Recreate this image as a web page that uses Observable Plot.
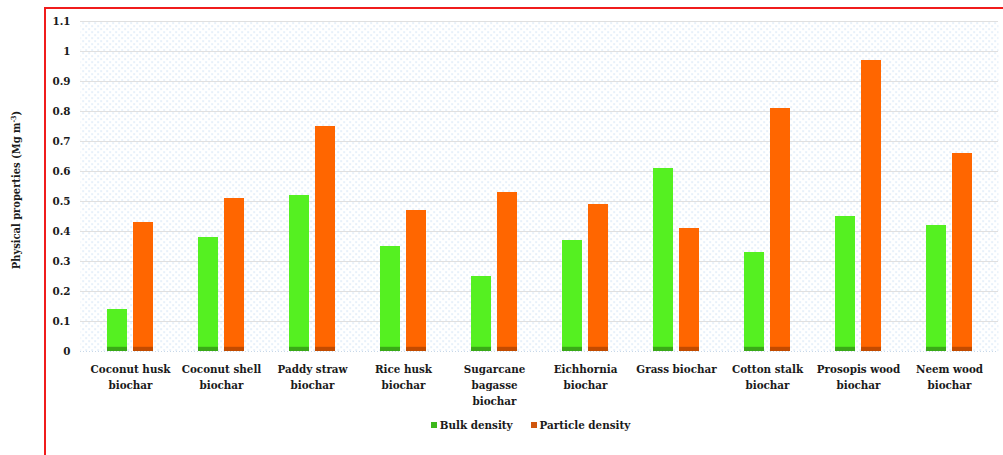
<!DOCTYPE html>
<html>
<head>
<meta charset="utf-8">
<script src="https://cdn.jsdelivr.net/npm/d3@7"></script>
<script src="https://cdn.jsdelivr.net/npm/@observablehq/plot@0.6"></script>
<style>
  html, body { margin: 0; padding: 0; background: #fff; overflow: hidden; }
  #wrap { position: relative; width: 1003px; height: 455px; overflow: hidden; }
  #border { position: absolute; left: 44px; top: 7px; width: 1100px; height: 600px; border: 2px solid #f01c1c; box-sizing: border-box; }
  #chart { position: absolute; left: 0; top: 0; }
  .serif { font-family: "DejaVu Serif Condensed", "DejaVu Serif", serif; font-stretch: condensed; font-weight: bold; }
  #ytitle { position: absolute; left: 16px; top: 190px; transform: translate(-50%, -50%) rotate(-90deg); white-space: nowrap;
    font-size: 11px; color: #1a1a1a; }
  #legend { position: absolute; top: 418px; left: 0; width: 1003px; display: flex; justify-content: center; gap: 18px;
    font-size: 11.5px; color: #1a1a1a; padding-left: 58px; box-sizing: border-box; }
  #legend span { display: inline-flex; align-items: center; gap: 3px; }
  #legend i { display: inline-block; width: 6px; height: 6px; }
  #chart svg text { font-family: "DejaVu Serif Condensed", "DejaVu Serif", serif !important; font-stretch: condensed; font-weight: bold; }
</style>
</head>
<body>
<div id="wrap">
  <div id="border"></div>
  <div id="chart"></div>
  <div id="ytitle" class="serif">Physical properties (Mg m<sup style="font-size:7px">-3</sup>)</div>
  <div id="legend" class="serif"></div>
</div>
<script>
const categories = [
  "Coconut husk\nbiochar", "Coconut shell\nbiochar", "Paddy straw\nbiochar", "Rice husk\nbiochar",
  "Sugarcane\nbagasse\nbiochar", "Eichhornia\nbiochar", "Grass biochar", "Cotton stalk\nbiochar",
  "Prosopis wood\nbiochar", "Neem wood\nbiochar"
];
const bulkDensity =     [0.14, 0.38, 0.52, 0.35, 0.25, 0.37, 0.61, 0.33, 0.45, 0.42];
const particleDensity = [0.43, 0.51, 0.75, 0.47, 0.53, 0.49, 0.41, 0.81, 0.97, 0.66];
const seriesNames = ["Bulk density", "Particle density"];
const seriesColors = ["#55f021", "#ff6600"];
const seriesDark = ["#2f8a14", "#a84000"];
const yTicks = [0, 0.1, 0.2, 0.3, 0.4, 0.5, 0.6, 0.7, 0.8, 0.9, 1, 1.1];

const bulk = categories.map((c, i) => ({cat: c, v: bulkDensity[i]}));
const part = categories.map((c, i) => ({cat: c, v: particleDensity[i]}));

const font = '"DejaVu Serif Condensed", "DejaVu Serif", serif';
const plot = Plot.plot({
  width: 1003,
  height: 410,
  marginLeft: 80,
  marginRight: 5,
  marginTop: 21,
  marginBottom: 59,
  style: {fontFamily: font, fontSize: "11.5px", fontWeight: "bold", color: "#1a1a1a", background: "transparent"},
  x: {domain: categories, paddingInner: 0.782, paddingOuter: 0.391, label: null},
  y: {domain: [0, 1.1], label: null},
  marks: [
    Plot.frame({fill: "url(#dots)", stroke: null}),
    Plot.gridY(yTicks.slice(1), {stroke: "#e0e0e0", strokeOpacity: 1, strokeWidth: 1.2}),
    Plot.ruleY([0], {stroke: "#c8d8e8", strokeDasharray: "1,2"}),
    Plot.barY(bulk, {x: "cat", y: "v", dx: -13, fill: seriesColors[0]}),
    Plot.barY(bulk, {x: "cat", y1: 0, y2: 0.014, dx: -13, fill: seriesDark[0], fillOpacity: 0.7}),
    Plot.barY(part, {x: "cat", y: "v", dx: 13, fill: seriesColors[1]}),
    Plot.barY(part, {x: "cat", y1: 0, y2: 0.014, dx: 13, fill: seriesDark[1], fillOpacity: 0.7}),
    Plot.axisY({ticks: yTicks, tickSize: 0, tickPadding: 10, tickFormat: d => String(d), fontSize: 11.5}),
    Plot.axisX({tickSize: 0, tickPadding: 10, lineHeight: 1.4, fontSize: 11.5})
  ]
});

// dotted background pattern
const ns = "http://www.w3.org/2000/svg";
const defs = document.createElementNS(ns, "defs");
const pat = document.createElementNS(ns, "pattern");
pat.setAttribute("id", "dots");
pat.setAttribute("width", "6");
pat.setAttribute("height", "6");
pat.setAttribute("patternUnits", "userSpaceOnUse");
[[1, 1], [4, 4]].forEach(([x, y]) => {
  const r = document.createElementNS(ns, "rect");
  r.setAttribute("x", x); r.setAttribute("y", y); r.setAttribute("width", "1.2"); r.setAttribute("height", "1.2");
  r.setAttribute("fill", "#bcd5f0");
  pat.appendChild(r);
});
defs.appendChild(pat);
plot.insertBefore(defs, plot.firstChild);

document.getElementById("chart").appendChild(plot);

const legend = document.getElementById("legend");
seriesNames.forEach((n, i) => {
  const s = document.createElement("span");
  const sw = document.createElement("i");
  sw.style.background = i === 0 ? "#3cb81a" : "#d0560d";
  s.appendChild(sw);
  s.appendChild(document.createTextNode(n));
  legend.appendChild(s);
});
</script>
</body>
</html>
